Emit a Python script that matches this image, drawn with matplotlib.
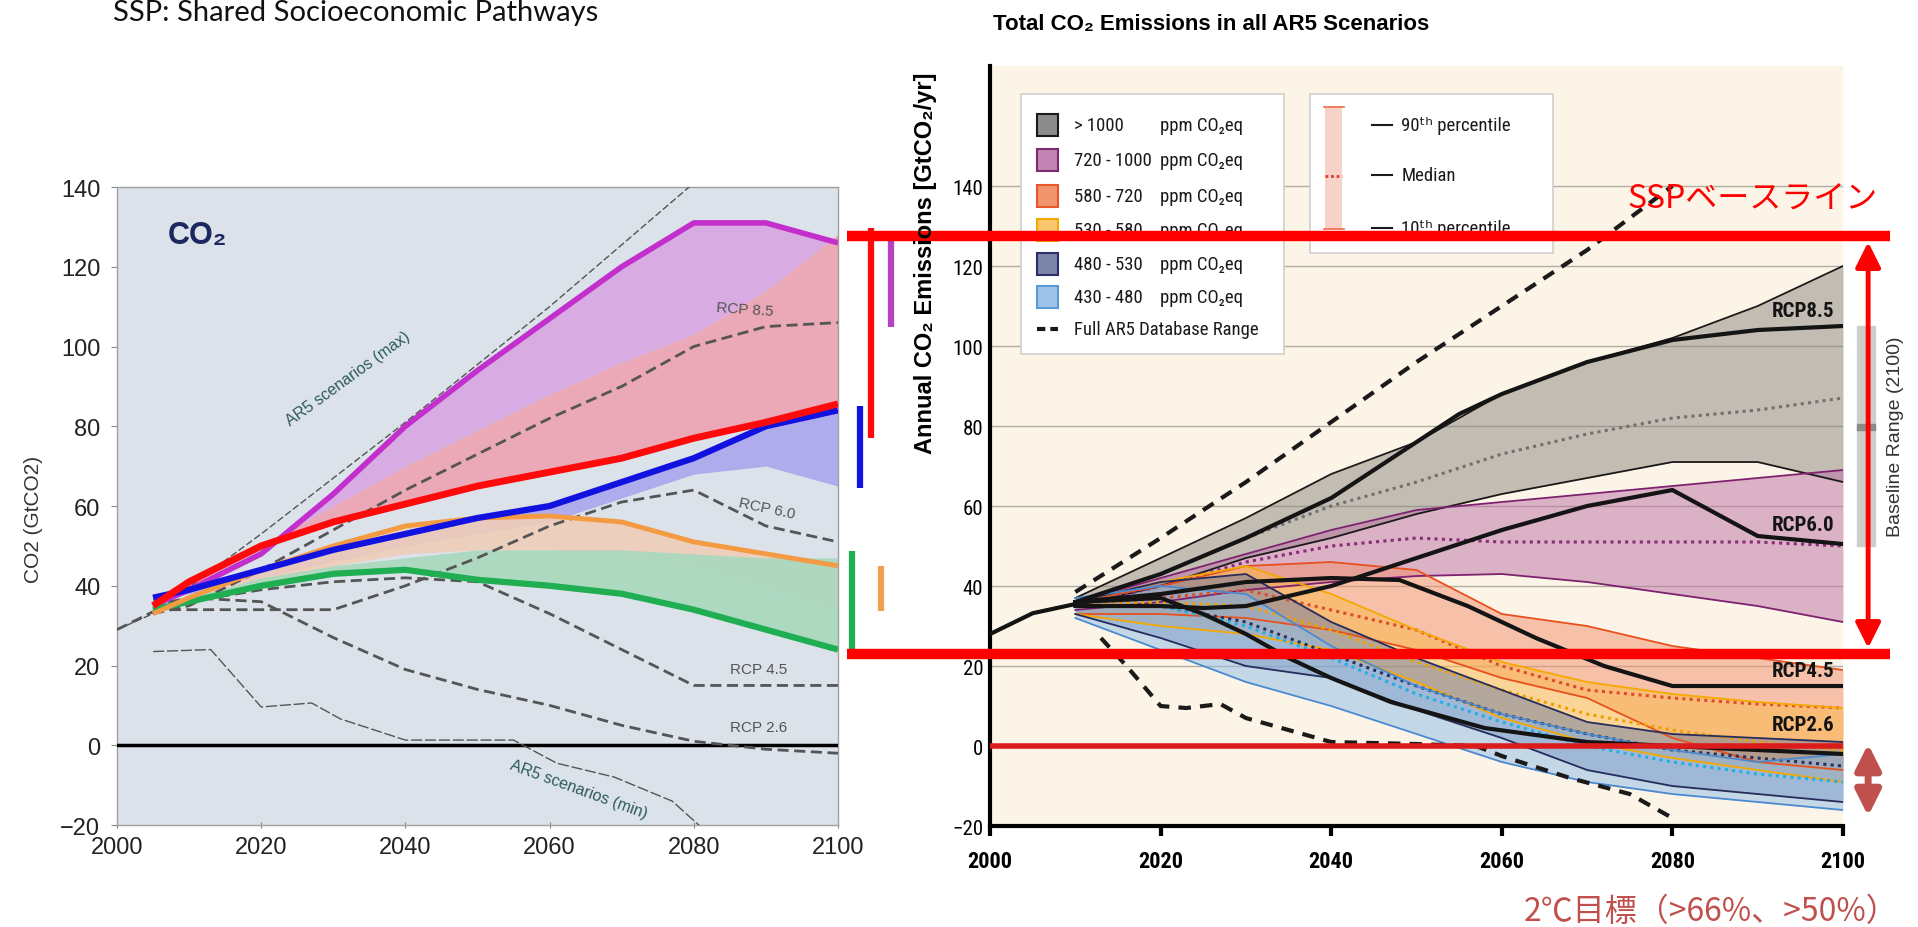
import matplotlib
matplotlib.use('Agg')
import matplotlib.pyplot as plt
from matplotlib.patches import Rectangle
from matplotlib import transforms, font_manager

plt.rcParams['font.family'] = ['Liberation Sans', 'DejaVu Sans']
installed = {f.name for f in font_manager.fontManager.ttflist}
narrow_name = next((n for n in ['Liberation Sans Narrow', 'Roboto Condensed', 'Open Sans Condensed']
                    if n in installed), None)
NARROW = [narrow_name, 'DejaVu Sans'] if narrow_name else ['Liberation Sans', 'DejaVu Sans']
LEG_FS = 13.5 if narrow_name else 12.5
PPM_X = 0.199 if narrow_name else 0.205
JP = ['Noto Sans CJK JP', 'DejaVu Sans']

# ---------------- left panel data (SSP vs RCP) ----------------
yl = [2005, 2010, 2020, 2030, 2040, 2050, 2060, 2070, 2080, 2090, 2100]
magenta_line = [35, 39, 48, 63, 80, 94, 107, 120, 131, 131, 126]
pink_top = [35, 40, 50, 60, 70, 79, 88, 96, 103, 114, 128]
red_line = [35, 41, 50, 56, 60.5, 65, 68.5, 72, 77, 81, 85.6]
blue_line = [37, 39, 44, 49, 53, 57, 60, 66, 72, 80, 84]
blue_low = [36, 38, 42, 46, 50, 53, 56, 62, 68, 70, 65]
orange_line = [33, 37, 44, 50, 55, 57, 57.5, 56, 51, 48, 45]
orange_low = [33, 36, 40, 45, 48, 49, 49, 48, 45, 40, 34]
green_line = [34, 36, 40, 43, 44, 41.5, 40, 38, 34, 29, 24]
green_top = [34, 37, 42, 45, 47, 49, 49, 49, 48, 47, 47]

rcp85_l = [33, 35, 44, 54, 64, 73, 82, 90, 100, 105, 106]
rcp60_l = [34, 34, 34, 34, 40, 47, 55, 61, 64, 55, 51]
rcp45_l = [34, 36, 39, 41, 42, 41, 33, 24, 15, 15, 15]
rcp26_l = [35, 37, 36, 27, 19, 14, 10, 5, 1, -1, -2]

hist_l_yr = [2000, 2005]
hist_l = [29, 33.5]
ar5max_yr = [2000, 2005, 2020, 2040, 2060, 2080]
ar5max = [29, 33, 53, 81, 110, 141]
ar5min_yr = [2005, 2013, 2020, 2027, 2031, 2040, 2055, 2061, 2069, 2077, 2081]
ar5min = [23.5, 24, 9.6, 10.6, 6.6, 1.3, 1.3, -4.5, -8, -14, -20.5]

# 2100 ranges shown beside the left panel
bar_names = ['green', 'blue', 'red', 'orange', 'magenta']
bar_lo = [22, 64.5, 77, 33.7, 105]
bar_hi = [48.6, 85, 129.6, 45, 127]

# ---------------- right panel data (AR5 scenarios) ----------------
yr = [2010, 2020, 2030, 2040, 2050, 2060, 2070, 2080, 2090, 2100]
grey_hi = [37, 47, 57, 68, 76, 88, 96, 102, 110, 120]
grey_lo = [35, 40, 47, 52, 58, 63, 67, 71, 71, 66]
grey_med = [36, 43, 52, 60, 66, 73, 78, 82, 84, 87]
purple_hi = [36, 42, 48, 54, 59, 61, 63, 65, 67, 69]
purple_lo = [34, 36, 39, 41, 42.5, 43, 41, 38, 35, 31]
purple_med = [35, 40, 46, 50, 52, 51, 51, 51, 51, 50]
coral_hi = [36, 40, 45, 46, 44, 33, 30, 25, 22, 19]
coral_lo = [33, 33, 32, 29, 24, 17, 12, 2, -4, -6]
coral_med = [35, 37, 39, 34, 29, 20, 14, 12, 10.5, 9.5]
yellow_hi = [36, 41, 45, 38, 29, 21, 16, 13, 11, 9.5]
yellow_lo = [33, 30, 28, 24, 16, 7, 1, -3, -6, -9]
yellow_med = [35, 36, 35, 29, 21, 14, 8, 4, 1, -1]
navy_hi = [36, 41, 43, 31, 22, 14, 6, 3, 2, 1]
navy_lo = [33, 27, 20, 17, 9, 2, -6, -10, -12, -14]
navy_med = [35, 35, 31, 23, 15, 8, 3, -1, -3, -5]
lblue_hi = [37, 40, 38, 25, 15, 8, 3, -1, -4, -2]
lblue_lo = [32, 24, 16, 10, 3, -4, -9, -12, -14, -16]
lblue_med = [35, 35, 30, 22, 13, 6, 0, -4, -7, -9]

rcp85_yr = [2010, 2020, 2030, 2040, 2050, 2055, 2060, 2070, 2080, 2090, 2100]
rcp85 = [36, 43, 52, 62, 76, 83, 88, 96, 101.5, 104, 105]
rcp60_yr = [2010, 2020, 2025, 2030, 2040, 2050, 2060, 2070, 2080, 2090, 2100]
rcp60 = [35, 35, 34.5, 35, 40, 47, 54, 60, 64, 52.5, 50.5]
rcp45_yr = [2010, 2020, 2030, 2040, 2048, 2056, 2064, 2072, 2080, 2100]
rcp45 = [36, 38, 41, 42, 41.5, 35, 27, 20, 15, 15]
rcp26_yr = [2010, 2020, 2025, 2030, 2035, 2040, 2047, 2058, 2070, 2080, 2090, 2100]
rcp26 = [36, 37, 33, 28, 22, 17, 11, 4.5, 1, 0, -1, -2]
hist_yr = [2000, 2005, 2010]
hist = [28, 33.2, 35.5]
db_hi_yr = [2010, 2020, 2030, 2040, 2050, 2060, 2070, 2080]
db_hi = [38.5, 52, 66, 81, 96, 110, 124, 140]
db_lo_yr = [2013, 2016, 2020, 2023, 2027, 2030, 2035, 2040, 2050, 2057, 2060, 2068, 2075, 2080]
db_lo = [27, 20, 10, 9.5, 10.5, 7, 4, 1, 0.5, 0, -2.5, -8, -12, -18]

legend_ranges = ['> 1000', '720 - 1000', '580 - 720', '530 - 580', '480 - 530', '430 - 480']
baseline_2100 = [50, 105]
ssp_range = [23, 127.5]
target_range = [0.5, -17.5]

fig = plt.figure(figsize=(19.18, 9.28), dpi=100)

# ================= left panel =================
ax1 = fig.add_axes([0.0610, 0.1099, 0.3759, 0.6875])
ax1.set_facecolor('#dce2ea')
ax1.set_xlim(2000, 2100)
ax1.set_ylim(-20, 140)

ax1.fill_between(yl, pink_top, magenta_line, color='#d8a6e2', alpha=0.9, lw=0)
ax1.fill_between(yl, red_line, pink_top, color='#eda2b2', alpha=0.9, lw=0)
ax1.fill_between(yl, blue_low, blue_line, color='#aaa6ee', alpha=0.9, lw=0)
ax1.fill_between(yl, orange_low, orange_line, color='#f0cdb8', alpha=0.9, lw=0)
ax1.fill_between(yl, green_line, green_top, color='#a9d8bd', alpha=0.9, lw=0)

ax1.axhline(0, color='black', lw=2.5, zorder=3)
dash = dict(color='#555555', lw=2, dashes=(4, 2), zorder=4)
for vals in [rcp85_l, rcp60_l, rcp45_l, rcp26_l]:
    ax1.plot(yl, vals, **dash)
ax1.plot(hist_l_yr, hist_l, **dash)
ax1.plot(ar5max_yr, ar5max, color='#555555', lw=1, dashes=(5, 2), zorder=4)
ax1.plot(ar5min_yr, ar5min, color='#555555', lw=1, dashes=(8, 2), zorder=4)

ax1.plot(yl, magenta_line, color='#c22fcc', lw=4, zorder=5, solid_capstyle='butt')
ax1.plot(yl, green_line, color='#1fae52', lw=4.5, zorder=5, solid_capstyle='butt')
ax1.plot(yl, orange_line, color='#f49a42', lw=3.5, zorder=5, solid_capstyle='butt')
ax1.plot(yl, blue_line, color='#1212e0', lw=4.5, zorder=5, solid_capstyle='butt')
ax1.plot(yl, red_line, color='#ff0a0a', lw=5, zorder=6, solid_capstyle='butt')

bar_x = [2102, 2103.1, 2104.6, 2106, 2107.3]
bar_col = ['#1fae52', '#1212e0', '#ff0a0a', '#f0a050', '#b640c6']
for x, lo, hi, c in zip(bar_x, bar_lo, bar_hi, bar_col):
    ax1.plot([x, x], [lo, hi], color=c, lw=4.5, clip_on=False, solid_capstyle='butt')

txt = dict(color='#555555', fontsize=11)
ax1.text(2083, 108, 'RCP 8.5', rotation=-4, **txt)
ax1.text(2086, 57, 'RCP 6.0', rotation=-12, **txt)
ax1.text(2085, 18, 'RCP 4.5', **txt)
ax1.text(2085, 3.5, 'RCP 2.6', **txt)
ax1.text(2032, 92, 'AR5 scenarios (max)', rotation=36, ha='center', va='center',
         color='#2d5b5b', fontsize=11.5)
ax1.text(2064, -11, 'AR5 scenarios (min)', rotation=-20, ha='center', va='center',
         color='#2d5b5b', fontsize=11.5)
ax1.text(2007, 128, 'CO₂', color='#1c2860', fontsize=22, fontweight='bold', va='center')

ax1.set_xticks(range(2000, 2101, 20))
ax1.set_yticks(range(-20, 141, 20))
ax1.tick_params(labelsize=17, labelcolor='#222222', color='#888888', length=4)
ax1.tick_params(axis='x', direction='inout', pad=6)
ax1.tick_params(axis='y', pad=8)
for s in ax1.spines.values():
    s.set_color('#a0a0a0')
    s.set_linewidth(1)
fig.text(0.0175, 0.44, 'CO2 (GtCO2)', rotation=90, ha='center', va='center',
         fontsize=15, color='#333333')

# ================= right panel =================
ax2 = fig.add_axes([0.5162, 0.1088, 0.4447, 0.8190])
ax2.set_facecolor('#fbf4e7')
ax2.set_xlim(2000, 2100)
ax2.set_ylim(-20, 170)
ax2.set_yticks(range(-20, 141, 20))
ax2.set_xticks(range(2000, 2101, 20))
ax2.yaxis.grid(True, color='#b3ada3', lw=1)
ax2.set_axisbelow(True)
for s in ['top', 'right']:
    ax2.spines[s].set_visible(False)
for s in ['left', 'bottom']:
    ax2.spines[s].set_linewidth(3)
ax2.tick_params(axis='y', length=0, pad=5, labelsize=15)
ax2.tick_params(axis='x', direction='out', length=7, width=3, pad=10, labelsize=16)
for lab in ax2.get_yticklabels():
    lab.set_fontfamily(NARROW)
for lab in ax2.get_xticklabels():
    lab.set_fontfamily(NARROW)
    lab.set_fontweight('bold')

bands = [
    (grey_lo, grey_hi, grey_med, '#8a867e', '#1a1a1a', '#707070'),
    (purple_lo, purple_hi, purple_med, '#bb70a4', '#7e2270', '#8a2a7a'),
    (coral_lo, coral_hi, coral_med, '#f2906a', '#e8501e', '#e04a2a'),
    (yellow_lo, yellow_hi, yellow_med, '#fbb848', '#f4a800', '#f0a000'),
    (navy_lo, navy_hi, navy_med, '#6e7aa2', '#262c5c', '#2a3060'),
    (lblue_lo, lblue_hi, lblue_med, '#8cbbe8', '#4a8ad0', '#22aee6'),
]
for lo, hi, med, fc, ec, mc in bands:
    ax2.fill_between(yr, lo, hi, color=fc, alpha=0.5, lw=0, zorder=2)
for lo, hi, med, fc, ec, mc in bands:
    ax2.plot(yr, lo, color=ec, lw=1.3, zorder=3)
    ax2.plot(yr, hi, color=ec, lw=1.3, zorder=3)
    ax2.plot(yr, med, color=mc, lw=2.2, ls=(0, (1, 1.4)), zorder=3)

ax2.plot(db_hi_yr, db_hi, color='#1a1a1a', lw=3, dashes=(3, 2.2), zorder=4)
ax2.plot(db_lo_yr, db_lo, color='#1a1a1a', lw=3, dashes=(3, 2.2), zorder=4)
thick = dict(color='#141414', lw=3, zorder=5)
ax2.plot(hist_yr, hist, **thick)
ax2.plot(rcp85_yr, rcp85, **thick)
ax2.plot(rcp60_yr, rcp60, **thick)
ax2.plot(rcp45_yr, rcp45, **thick)
ax2.plot(rcp26_yr, rcp26, **thick)

lab = dict(ha='right', va='center', fontsize=15, fontweight='bold', family=NARROW,
           color='#141414', zorder=6)
ax2.text(2099, 109, 'RCP8.5', **lab)
ax2.text(2099, 55.5, 'RCP6.0', **lab)
ax2.text(2099, 19, 'RCP4.5', **lab)
ax2.text(2099, 5.5, 'RCP2.6', **lab)

ax2.axhline(0, color='#dc1c1c', lw=4, zorder=7)

# baseline range bar at 2100
ax2.add_patch(Rectangle((2101.6, baseline_2100[0]), 2.2, baseline_2100[1] - baseline_2100[0],
                        color='#cdcdcd', clip_on=False, zorder=1))
ax2.add_patch(Rectangle((2101.6, 79), 2.2, 1.6, color='#8a8a8a', clip_on=False, zorder=1))
ax2.text(2106.1, 77.5, 'Baseline Range (2100)', rotation=90, ha='center', va='center',
         fontsize=14, color='#333333')

# legend boxes (axes fraction)
T = ax2.transAxes
ax2.add_patch(Rectangle((0.0363, 0.621), 0.3084, 0.342, transform=T, facecolor='white',
                        edgecolor='#cfcfcf', lw=1.2, zorder=8))
ax2.add_patch(Rectangle((0.375, 0.754), 0.285, 0.209, transform=T, facecolor='white',
                        edgecolor='#cfcfcf', lw=1.2, zorder=8))
leg_fc = ['#8c8c8c', '#c184b3', '#f0946b', '#fdc56c', '#7b83a8', '#9fc3e8']
leg_ec = ['#1a1a1a', '#7b2a6b', '#e8562a', '#f5a800', '#2a2f6b', '#5b9bd5']
rows = [0.922, 0.876, 0.829, 0.784, 0.739, 0.696, 0.654]
lt = dict(transform=T, va='center', fontsize=LEG_FS, family=NARROW, color='#1a1a1a', zorder=9)
for name, fc, ec, y in zip(legend_ranges, leg_fc, leg_ec, rows):
    ax2.add_patch(Rectangle((0.0551, y - 0.0145), 0.0246, 0.029, transform=T,
                            facecolor=fc, edgecolor=ec, lw=1.5, zorder=9))
    ax2.text(0.0985, y, name, **lt)
    ax2.text(PPM_X, y, 'ppm CO₂eq', **lt)
ax2.plot([0.0551, 0.0797], [rows[6], rows[6]], transform=T, color='#1a1a1a', lw=3,
         dashes=(2, 1.2), zorder=9)
ax2.text(0.0985, rows[6], 'Full AR5 Database Range', **lt)

ax2.add_patch(Rectangle((0.393, 0.785), 0.02, 0.161, transform=T, facecolor='#f6d2c8',
                        edgecolor='none', zorder=9))
for y in [0.946, 0.785]:
    ax2.plot([0.391, 0.415], [y, y], transform=T, color='#ee6a4a', lw=1.2, zorder=10)
ax2.plot([0.393, 0.413], [0.855, 0.855], transform=T, color='#e03a2a', lw=2,
         ls=(0, (1, 1)), zorder=10)
for y, s in zip([0.922, 0.857, 0.787], ['90ᵗʰ percentile', 'Median', '10ᵗʰ percentile']):
    ax2.plot([0.448, 0.471], [y, y], transform=T, color='#1a1a1a', lw=1.5, zorder=9)
    ax2.text(0.482, y, s, **lt)

# ================= overlay annotations =================
tr = transforms.blended_transform_factory(fig.transFigure, ax2.transData)
for v in ssp_range:
    ax2.plot([0.4416, 0.9854], [v, v], transform=tr, color='#ff0000', lw=7.5,
             solid_capstyle='butt', clip_on=False, zorder=20)
ax2.annotate('', xy=(0.974, ssp_range[1] - 1.5), xytext=(0.974, ssp_range[0] + 1.5),
             xycoords=tr, textcoords=tr,
             arrowprops=dict(arrowstyle='<|-|>', color='#ff0000', lw=3.5,
                             mutation_scale=38, shrinkA=0, shrinkB=0), zorder=20)
ax2.annotate('', xy=(0.974, target_range[0]), xytext=(0.974, target_range[1]),
             xycoords=tr, textcoords=tr,
             arrowprops=dict(arrowstyle='<|-|>', color='#c0504d', lw=5,
                             mutation_scale=38, shrinkA=0, shrinkB=0), zorder=20)
ax2.text(0.979, 137, 'SSPベースライン', transform=tr, ha='right', va='center',
         fontsize=23, color='#ff0000', family=JP, zorder=20)
fig.text(0.990, 0.017, '2℃目標（>66%、>50%）', ha='right', va='center', fontsize=23,
         color='#c0504d', family=JP)

fig.text(0.4823, 0.7166, 'Annual CO₂ Emissions [GtCO₂/yr]', rotation=90, ha='center',
         va='center', fontsize=17, fontweight='bold')
fig.text(0.5177, 0.974, 'Total CO₂ Emissions in all AR5 Scenarios', ha='left', va='center',
         fontsize=16, fontweight='bold')
fig.text(0.0589, 0.986, 'SSP: Shared Socioeconomic Pathways', ha='left', va='center',
         fontsize=21, family=['Lato', 'DejaVu Sans'], color='#111111')

fig.savefig('out.png', dpi=100, facecolor='white')
